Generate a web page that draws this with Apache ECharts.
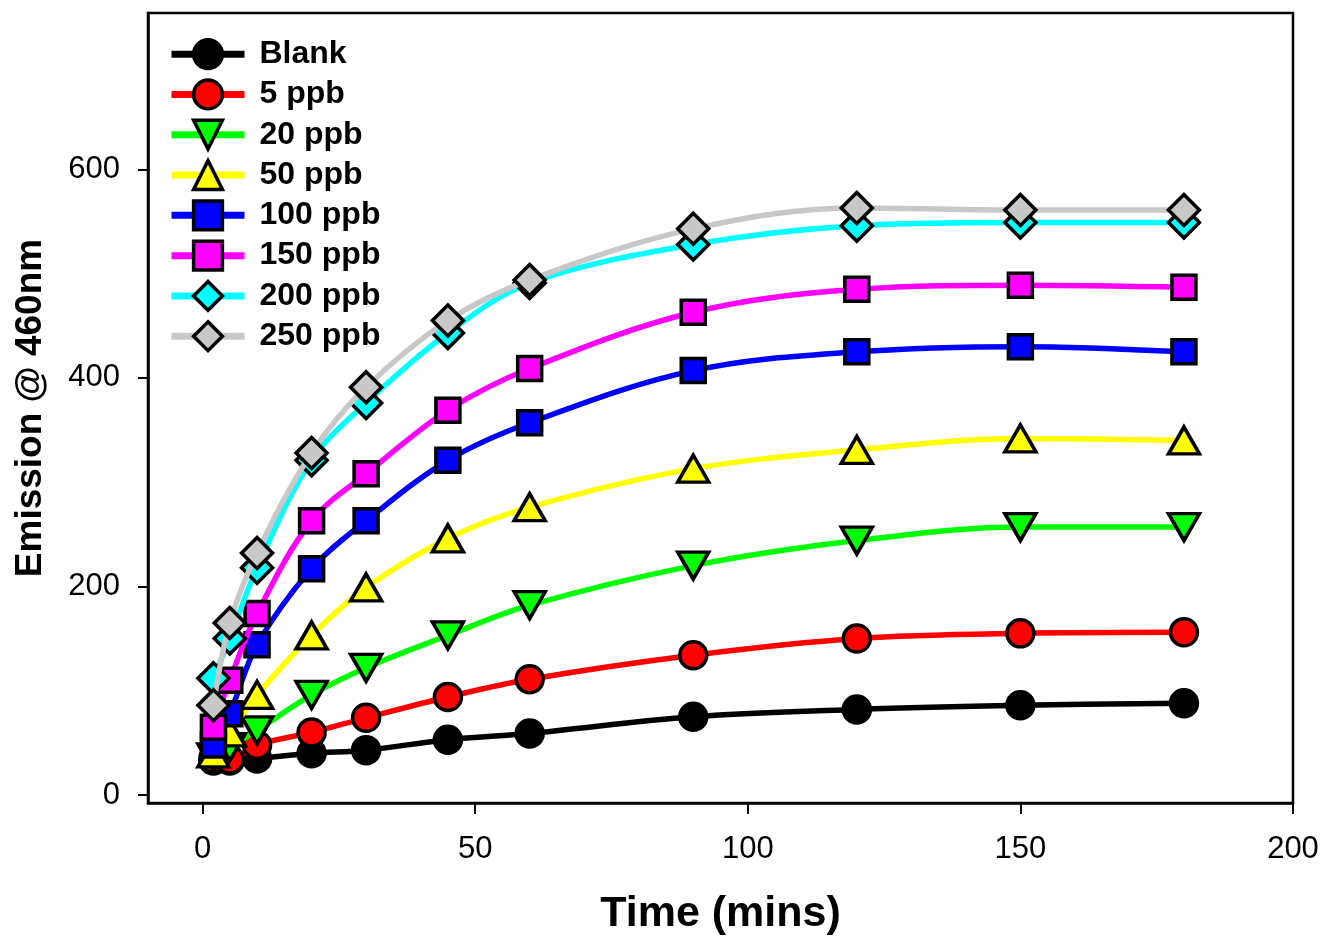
<!DOCTYPE html>
<html>
<head>
<meta charset="utf-8">
<script src="https://cdn.jsdelivr.net/npm/echarts@6/dist/echarts.min.js"></script>
<style>
html,body{margin:0;padding:0;background:#fff;}
#chart{width:1323px;height:937px;}
</style>
</head>
<body>
<div id="chart"></div>
<script>
const times = [2, 5, 10, 20, 30, 45, 60, 90, 120, 150, 180];
const seriesNames = ['Blank', '5 ppb', '20 ppb', '50 ppb', '100 ppb', '150 ppb', '200 ppb', '250 ppb'];
const blank   = [33, 33, 35, 40, 43, 53, 59, 75, 82, 86, 88];
const ppb5    = [35, 34, 48, 60, 74, 94, 111, 134, 150, 155, 156];
const ppb20   = [36, 46, 62, 96, 122, 153, 182, 220, 244, 257, 257];
const ppb50   = [40, 60, 96, 153, 199, 246, 276, 313, 331, 342, 340];
const ppb100  = [48, 78, 144, 217, 263, 321, 357, 407, 425, 430, 425];
const ppb150  = [65, 110, 174, 263, 308, 369, 409, 463, 485, 489, 487];
const ppb200  = [112, 150, 218, 321, 376, 443, 491, 528, 546, 549, 549];
const ppb250  = [86, 165, 232, 328, 391, 455, 494, 543, 563, 561, 561];
const xTicks = [0, 50, 100, 150, 200];
const yTicks = [0, 200, 400, 600];

const allData = [blank, ppb5, ppb20, ppb50, ppb100, ppb150, ppb200, ppb250];
const lineColors = ['#000000', '#ff0000', '#00ff00', '#ffff00', '#0000ff', '#ff00ff', '#00ffff', '#c8c8c8'];
const symbols = ['circle', 'circle', 'path://M0,0 L10,0 L5,9 Z', 'path://M5,0 L10,9 L0,9 Z', 'rect', 'rect', 'diamond', 'diamond'];
const symSizes = [27, 27, [31, 27], [31, 27], 24, 24, 31, 31];

const series = seriesNames.map((name, i) => ({
  name: name,
  type: 'line',
  data: times.map((t, j) => [t, allData[i][j]]),
  smooth: 0.35,
  symbol: symbols[i],
  symbolSize: symSizes[i],
  showAllSymbol: true,
  lineStyle: { color: lineColors[i], width: 5.5 },
  itemStyle: { color: lineColors[i], borderColor: '#000', borderWidth: 3.5, opacity: 1 },
  emphasis: { disabled: true },
  z: 2 + i
}));

const chart = echarts.init(document.getElementById('chart'), null, { renderer: 'canvas' });
chart.setOption({
  animation: false,
  backgroundColor: '#fff',
  grid: { left: 148, top: 13, right: 30, bottom: 134, show: true, borderColor: '#000', borderWidth: 2.5, backgroundColor: 'transparent', containLabel: false, outerBoundsMode: 'none' },
  legend: {
    orient: 'vertical',
    left: 168,
    top: 38,
    padding: 0,
    itemWidth: 73,
    itemHeight: 36,
    itemGap: 8,
    data: seriesNames,
    lineStyle: { width: 7 },
    itemStyle: { borderWidth: 3.5 },
    textStyle: { fontFamily: 'Liberation Sans, Arial, sans-serif', fontWeight: 'bold', fontSize: 32, color: '#000', padding: [0, 0, 0, 10] }
  },
  xAxis: {
    type: 'value',
    min: -10,
    max: 200,
    name: 'Time (mins)',
    nameLocation: 'middle',
    nameGap: 90,
    nameTextStyle: { fontFamily: 'Liberation Sans, Arial, sans-serif', fontWeight: 'bold', fontSize: 43, color: '#000' },
    splitLine: { show: false },
    axisLine: { onZero: false, lineStyle: { color: '#000', width: 2.5 } },
    axisTick: { show: true, inside: false, length: 11, customValues: xTicks, lineStyle: { color: '#000', width: 2 } },
    axisLabel: { customValues: xTicks, margin: 31, fontFamily: 'Liberation Sans, Arial, sans-serif', fontSize: 31, color: '#000' }
  },
  yAxis: {
    type: 'value',
    min: -7.7,
    max: 750,
    name: 'Emission @ 460nm',
    nameLocation: 'middle',
    nameGap: 99,
    nameTextStyle: { fontFamily: 'Liberation Sans, Arial, sans-serif', fontWeight: 'bold', fontSize: 37, color: '#000' },
    splitLine: { show: false },
    axisLine: { onZero: false, lineStyle: { color: '#000', width: 2.5 } },
    axisTick: { show: true, inside: false, length: 10, customValues: yTicks, lineStyle: { color: '#000', width: 2 } },
    axisLabel: { customValues: yTicks, margin: 28, fontFamily: 'Liberation Sans, Arial, sans-serif', fontSize: 31, color: '#000' }
  },
  series: series
});
</script>
</body>
</html>
